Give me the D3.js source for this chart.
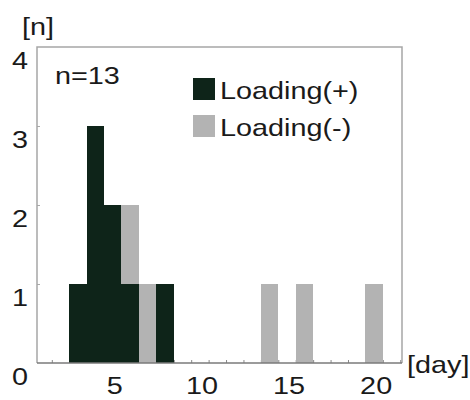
<!DOCTYPE html>
<html>
<head>
<meta charset="utf-8">
<script src="https://cdn.jsdelivr.net/npm/d3@7"></script>
<style>
  html, body { margin: 0; padding: 0; background: #fff; }
  svg { display: block; }
  text { font-family: "Liberation Sans", Arial, sans-serif; fill: #1a1a1a; }
</style>
</head>
<body>
<svg id="chart" width="470" height="400"></svg>
<script>
// Histogram of days, split by loading condition
const days = [3, 4, 5, 6, 7, 8, 14, 16, 20];
const loadingPos = [1, 3, 2, 1, 0, 1, 0, 0, 0];
const loadingNeg = [0, 0, 0, 1, 1, 0, 1, 1, 1];
const seriesNames = ["Loading(+)", "Loading(-)"];
const yTicks = [0, 1, 2, 3, 4];
const xTickLabels = [5, 10, 15, 20];
const totalN = d3.sum(loadingPos) + d3.sum(loadingNeg);

const colors = { "Loading(+)": "#0e2419", "Loading(-)": "#b3b3b3" };

const svg = d3.select("#chart");
const plotLeft = 37, plotRight = 402, plotTop = 47, plotBottom = 363;
const fontSize = 24, stretch = 1.2;

const x = d3.scaleLinear().domain([0.65, 21.6]).range([plotLeft, plotRight]);
const y = d3.scaleLinear().domain([0, 4]).range([plotBottom, plotTop]);

// Text helper: Helvetica-like face, slightly widened
function label(g, str, px, py, anchor, size) {
  return g.append("text")
    .attr("transform", `translate(${px},${py}) scale(${stretch},1)`)
    .attr("text-anchor", anchor || "start")
    .style("font-size", (size || fontSize) + "px")
    .text(str);
}

// Bin-edge ticks along the day axis
const binEdges = d3.range(1.5, 21.6, 1);
svg.append("g")
  .attr("transform", `translate(0,${plotBottom})`)
  .call(d3.axisBottom(x).tickValues(binEdges).tickSize(-3).tickFormat(""))
  .call(g => g.select(".domain").remove())
  .call(g => g.selectAll("line").attr("stroke", "#888").attr("stroke-width", 1));

// Count ticks on the left edge
svg.append("g")
  .attr("transform", `translate(${plotLeft},0)`)
  .call(d3.axisLeft(y).tickValues(yTicks.slice(1, 4)).tickSize(-3).tickFormat(""))
  .call(g => g.select(".domain").remove())
  .call(g => g.selectAll("line").attr("stroke", "#aaa").attr("stroke-width", 1));

// Stacked bars
const rows = days.map((d, i) => ({ day: d, "Loading(+)": loadingPos[i], "Loading(-)": loadingNeg[i] }));
const stacked = d3.stack().keys(seriesNames)(rows);

svg.append("g")
  .attr("shape-rendering", "crispEdges")
  .selectAll("g")
  .data(stacked)
  .join("g")
  .attr("fill", s => colors[s.key])
  .selectAll("rect")
  .data(s => s.filter(v => v[1] > v[0]))
  .join("rect")
  .attr("x", v => x(v.data.day - 0.5))
  .attr("width", v => x(v.data.day + 0.5) - x(v.data.day - 0.5))
  .attr("y", v => y(v[1]))
  .attr("height", v => y(v[0]) - y(v[1]));

// Frame
svg.append("path")
  .attr("d", `M${plotLeft},${plotBottom} V${plotTop} H${plotRight} V${plotBottom}`)
  .attr("fill", "none")
  .attr("stroke", "#a6a6a6")
  .attr("stroke-width", 1.5);
svg.append("line")
  .attr("x1", plotLeft).attr("x2", plotRight)
  .attr("y1", plotBottom).attr("y2", plotBottom)
  .attr("stroke", "#7a7a7a")
  .attr("stroke-width", 1.5);

// Tick labels
const labels = svg.append("g");
yTicks.forEach(t => label(labels, String(t), 28, y(t) + 22, "end"));
xTickLabels.forEach(t => label(labels, String(t), x(t) + 2, 394, "middle"));

// Axis units
label(labels, "[n]", 22, 35, "start");
label(labels, "[day]", 407, 373, "start");

// Sample size
label(labels, "n=" + totalN, 55, 84, "start");

// Legend
const legend = svg.append("g");
seriesNames.forEach((name, i) => {
  const ly = 78 + i * 37;
  legend.append("rect")
    .attr("x", 193).attr("y", ly)
    .attr("width", 22).attr("height", 22)
    .attr("fill", colors[name]);
  label(legend, name, 220, ly + 21, "start");
});
</script>
</body>
</html>
